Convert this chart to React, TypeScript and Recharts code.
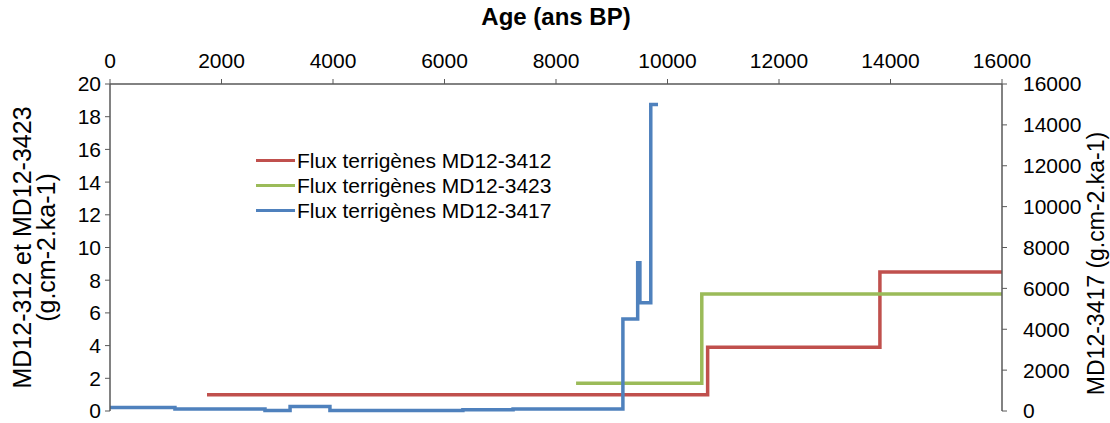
import { LineChart, Line, XAxis, YAxis, Legend } from "recharts";

const FONT = '"Liberation Sans", Arial, sans-serif';
const AXIS = "#595959";

// age ticks (ans BP) and y ticks
const ageTicks = [0, 2000, 4000, 6000, 8000, 10000, 12000, 14000, 16000];
const leftTicks = [0, 2, 4, 6, 8, 10, 12, 14, 16, 18, 20];
const rightTicks = [0, 2000, 4000, 6000, 8000, 10000, 12000, 14000, 16000];

// MD12-3412 (left axis), step changes
const ages3412 = [1740, 10720, 13810, 16000];
const flux3412 = [1.0, 3.9, 8.5, 8.5];

// MD12-3423 (left axis)
const ages3423 = [8360, 10615, 16000];
const flux3423 = [1.7, 7.15, 7.15];

// MD12-3417 (right axis)
const ages3417 = [0, 1165, 2780, 3230, 3945, 6330, 7230, 9200, 9465, 9505, 9700, 9830];
const flux3417 = [170, 100, 25, 220, 25, 60, 100, 4500, 7250, 5300, 15000, 15000];

const zip = (ages: number[], vals: number[]) =>
  ages.map((age, i) => ({ age, flux: vals[i] }));

const series = [
  { name: "Flux terrigènes MD12-3412", color: "#C0504D", axis: "left", data: zip(ages3412, flux3412) },
  { name: "Flux terrigènes MD12-3423", color: "#9BBB59", axis: "left", data: zip(ages3423, flux3423) },
  { name: "Flux terrigènes MD12-3417", color: "#4F81BD", axis: "right", data: zip(ages3417, flux3417) },
];

const tick = { fontSize: 21, fontFamily: FONT, fill: "#000" };

function LeftTitle({ viewBox }: any) {
  const cy = viewBox.y + viewBox.height / 2;
  const lines = ["MD12-312 et MD12-3423", "(g.cm-2.ka-1)"];
  return (
    <g>
      {lines.map((t, i) => {
        const cx = 22 + i * 24;
        return (
          <text
            key={t}
            x={cx}
            y={cy}
            transform={`rotate(-90, ${cx}, ${cy})`}
            textAnchor="middle"
            dominantBaseline="central"
            fontSize={25}
            fontFamily={FONT}
            fill="#000"
          >
            {t}
          </text>
        );
      })}
    </g>
  );
}

function RightTitle({ viewBox }: any) {
  const cx = viewBox.x + viewBox.width - 14;
  const cy = viewBox.y + viewBox.height / 2 + 16;
  return (
    <text
      x={cx}
      y={cy}
      transform={`rotate(-90, ${cx}, ${cy})`}
      textAnchor="middle"
      dominantBaseline="central"
      fontSize={23}
      fontFamily={FONT}
      fill="#000"
    >
      MD12-3417 (g.cm-2.ka-1)
    </text>
  );
}

function LegendBox() {
  return (
    <div style={{ fontFamily: FONT, fontSize: 21, lineHeight: "25px" }}>
      {series.map((s) => (
        <div key={s.name} style={{ display: "flex", alignItems: "center", height: 25 }}>
          <span style={{ width: 39, height: 3, background: s.color, marginRight: 2 }} />
          <span>{s.name}</span>
        </div>
      ))}
    </div>
  );
}

export default function App() {
  return (
    <div style={{ position: "absolute", left: 0, top: 0, background: "#fff" }}>
      <LineChart width={1110} height={423} margin={{ top: 0, right: 0, bottom: 12, left: 0 }}>
        <XAxis
          xAxisId="age"
          type="number"
          dataKey="age"
          orientation="top"
          height={84}
          domain={[0, 16000]}
          ticks={ageTicks}
          interval={0}
          allowDuplicatedCategory={false}
          tick={tick}
          tickSize={5}
          tickMargin={11}
          axisLine={{ stroke: AXIS, strokeWidth: 1.5 }}
          tickLine={{ stroke: AXIS }}
          label={{
            value: "Age (ans BP)",
            position: "insideTop",
            offset: 8,
            style: { fontSize: 24, fontWeight: 700, fontFamily: FONT, fill: "#000" },
          }}
        />
        <YAxis
          yAxisId="left"
          orientation="left"
          width={110}
          domain={[0, 20]}
          ticks={leftTicks}
          interval={0}
          tick={tick}
          tickSize={5}
          tickMargin={4}
          axisLine={{ stroke: AXIS, strokeWidth: 1.5 }}
          tickLine={{ stroke: AXIS }}
          label={<LeftTitle />}
        />
        <YAxis
          yAxisId="right"
          orientation="right"
          width={108}
          domain={[0, 16000]}
          ticks={rightTicks}
          interval={0}
          tick={tick}
          tickSize={5}
          tickMargin={16}
          axisLine={{ stroke: AXIS, strokeWidth: 1.5 }}
          tickLine={{ stroke: AXIS }}
          label={<RightTitle />}
        />
        <Legend
          layout="horizontal"
          align="center"
          verticalAlign="middle"
          content={<LegendBox />}
          wrapperStyle={{ left: 256, top: 148, width: "auto" }}
        />
        {series.map((s) => (
          <Line
            key={s.name}
            name={s.name}
            data={s.data}
            dataKey="flux"
            xAxisId="age"
            yAxisId={s.axis}
            type="stepAfter"
            stroke={s.color}
            strokeWidth={3.5}
            dot={false}
            activeDot={false}
            isAnimationActive={false}
          />
        ))}
      </LineChart>
    </div>
  );
}
